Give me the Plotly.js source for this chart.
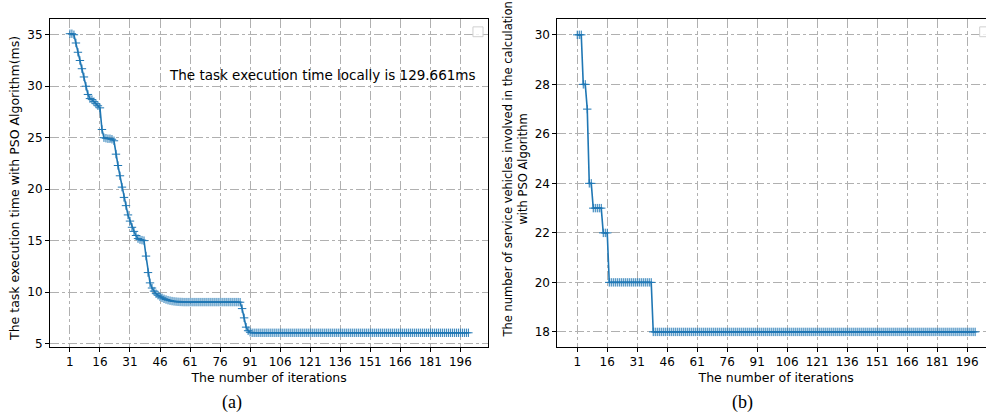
<!DOCTYPE html>
<html><head><meta charset="utf-8">
<script src="https://cdn.plot.ly/plotly-3.0.1.min.js"></script>
<style>html,body{margin:0;padding:0;overflow:hidden;background:#fff}#chart{width:1000px;height:414px}</style>
</head><body><div id="chart"></div>
<script>
// Left panel (a): task execution time (ms) per iteration, iterations 1..200
const taskTime = [
  35.1, 35.1, 35.0, 34.2, 33.3, 32.5, 31.7, 30.9, 30.0, 29.2,
  28.8, 28.7, 28.5, 28.3, 28.1, 27.9, 25.8, 25.0, 24.95, 24.9,
  24.9, 24.85, 24.7, 23.4, 22.3, 21.3, 20.2, 19.2, 18.4, 17.5,
  16.9, 16.3, 15.9, 15.5, 15.2, 15.1, 15.05, 15.0, 13.5, 11.9,
  10.9, 10.4, 10.1, 9.85, 9.7, 9.55, 9.45, 9.35, 9.28, 9.22,
  9.17, 9.13, 9.1, 9.08, 9.06, 9.05, 9.04, 9.03, 9.03, 9.03,
  9.03, 9.03, 9.03, 9.03, 9.03, 9.03, 9.03, 9.03, 9.03, 9.03,
  9.03, 9.03, 9.03, 9.03, 9.03, 9.03, 9.03, 9.03, 9.03, 9.03,
  9.03, 9.03, 9.03, 9.03, 9.03, 9.02, 8.4, 7.5, 6.6, 6.25,
  6.1, 6.05, 6.05, 6.05, 6.05, 6.05, 6.05, 6.05, 6.05, 6.05,
  6.05, 6.05, 6.05, 6.05, 6.05, 6.05, 6.05, 6.05, 6.05, 6.05,
  6.05, 6.05, 6.05, 6.05, 6.05, 6.05, 6.05, 6.05, 6.05, 6.05,
  6.05, 6.05, 6.05, 6.05, 6.05, 6.05, 6.05, 6.05, 6.05, 6.05,
  6.05, 6.05, 6.05, 6.05, 6.05, 6.05, 6.05, 6.05, 6.05, 6.05,
  6.05, 6.05, 6.05, 6.05, 6.05, 6.05, 6.05, 6.05, 6.05, 6.05,
  6.05, 6.05, 6.05, 6.05, 6.05, 6.05, 6.05, 6.05, 6.05, 6.05,
  6.05, 6.05, 6.05, 6.05, 6.05, 6.05, 6.05, 6.05, 6.05, 6.05,
  6.05, 6.05, 6.05, 6.05, 6.05, 6.05, 6.05, 6.05, 6.05, 6.05,
  6.05, 6.05, 6.05, 6.05, 6.05, 6.05, 6.05, 6.05, 6.05, 6.05,
  6.05, 6.05, 6.05, 6.05, 6.05, 6.05, 6.05, 6.05, 6.05, 6.05
];
// Right panel (b): number of service vehicles per iteration
const vehicles = [
  30, 30, 30, 28, 28, 27, 24, 24, 23, 23,
  23, 23, 23, 22, 22, 22, 20, 20, 20, 20,
  20, 20, 20, 20, 20, 20, 20, 20, 20, 20,
  20, 20, 20, 20, 20, 20, 20, 20, 18, 18,
  18, 18, 18, 18, 18, 18, 18, 18, 18, 18,
  18, 18, 18, 18, 18, 18, 18, 18, 18, 18,
  18, 18, 18, 18, 18, 18, 18, 18, 18, 18,
  18, 18, 18, 18, 18, 18, 18, 18, 18, 18,
  18, 18, 18, 18, 18, 18, 18, 18, 18, 18,
  18, 18, 18, 18, 18, 18, 18, 18, 18, 18,
  18, 18, 18, 18, 18, 18, 18, 18, 18, 18,
  18, 18, 18, 18, 18, 18, 18, 18, 18, 18,
  18, 18, 18, 18, 18, 18, 18, 18, 18, 18,
  18, 18, 18, 18, 18, 18, 18, 18, 18, 18,
  18, 18, 18, 18, 18, 18, 18, 18, 18, 18,
  18, 18, 18, 18, 18, 18, 18, 18, 18, 18,
  18, 18, 18, 18, 18, 18, 18, 18, 18, 18,
  18, 18, 18, 18, 18, 18, 18, 18, 18, 18,
  18, 18, 18, 18, 18, 18, 18, 18, 18, 18,
  18, 18, 18, 18, 18, 18, 18, 18, 18, 18
];
const iterations = taskTime.map((_, i) => i + 1);
const xTickVals = [1, 16, 31, 46, 61, 76, 91, 106, 121, 136, 151, 166, 181, 196];
const leftYTicks = [5, 10, 15, 20, 25, 30, 35];
const rightYTicks = [18, 20, 22, 24, 26, 28, 30];
const xTitle = 'The number of iterations';
const leftYTitle = 'The task execution time with PSO Algorithm(ms)';
const rightYTitle = 'The number of service vehicles involved in the calculation<br>with PSO Algorithm';
const localNote = 'The task execution time locally is 129.661ms';

const BLUE = '#1f77b4';
const FONT = 'DejaVu Sans, sans-serif';

function trace(y, xa, ya) {
  return {
    x: iterations, y: y, xaxis: xa, yaxis: ya, type: 'scatter', mode: 'lines+markers',
    line: {color: BLUE, width: 1.6},
    marker: {symbol: 'cross-thin', size: 6, color: BLUE, line: {color: BLUE, width: 1}},
    showlegend: false, hoverinfo: 'skip'
  };
}
function xAxis(domain, anchor) {
  return {
    domain: domain, anchor: anchor, range: [-8.95, 209.95], tickmode: 'array', tickvals: xTickVals,
    ticktext: xTickVals.map(String), showline: true, mirror: true, linecolor: '#000', linewidth: 1,
    ticks: 'outside', ticklen: 4, tickcolor: '#000', zeroline: false,
    showgrid: true, gridcolor: '#b0b0b0', griddash: 'dashdot', gridwidth: 1,
    tickfont: {family: FONT, size: 12, color: '#000'},
    title: {text: xTitle, font: {family: FONT, size: 12.5, color: '#000'}, standoff: 4},
    automargin: false
  };
}
function yAxis(range, ticks, anchor) {
  return {
    domain: [0, 1], anchor: anchor, range: range, tickmode: 'array', tickvals: ticks,
    showline: true, mirror: true, linecolor: '#000', linewidth: 1,
    ticks: 'outside', ticklen: 4, tickcolor: '#000', zeroline: false,
    showgrid: true, gridcolor: '#b0b0b0', griddash: 'dashdot', gridwidth: 1,
    tickfont: {family: FONT, size: 12, color: '#000'}, automargin: false
  };
}
const legendBox = (xr, yr) => ({
  type: 'rect', xref: xr, yref: yr, x0: 0.965, x1: 0.988, y0: 0.946, y1: 0.976,
  line: {color: '#d0d0d0', width: 1}, fillcolor: 'rgba(255,255,255,0.8)', layer: 'above'
});

const layout = {
  width: 1000, height: 414,
  margin: {l: 50, r: 5, t: 19, b: 67},
  paper_bgcolor: '#fff', plot_bgcolor: '#fff',
  xaxis: xAxis([0, 0.4638], 'y'),
  yaxis: yAxis([4.67, 36.53], leftYTicks, 'x'),
  xaxis2: xAxis([0.5369, 1], 'y2'),
  yaxis2: yAxis([17.39, 30.64], rightYTicks, 'x2'),
  shapes: [legendBox('x domain', 'y domain'), legendBox('x2 domain', 'y2 domain')],
  annotations: [
    {xref: 'x', yref: 'y', x: 49.5, y: 31.1, xanchor: 'left', yanchor: 'middle', showarrow: false,
     text: localNote, font: {family: FONT, size: 13.5, color: '#000'}},
    {xref: 'paper', yref: 'paper', x: -0.037, y: 0.482, xanchor: 'center', yanchor: 'middle',
     showarrow: false, textangle: -90, text: leftYTitle, font: {family: FONT, size: 12.5, color: '#000'}},
    {xref: 'paper', yref: 'paper', x: 0.4926, y: 0.5396, xanchor: 'center', yanchor: 'middle',
     showarrow: false, textangle: -90, align: 'center', text: rightYTitle,
     font: {family: FONT, size: 11.5, color: '#000'}},
    {xref: 'paper', yref: 'paper', x: 0.1926, y: -0.1707, xanchor: 'center', yanchor: 'middle',
     showarrow: false, text: '(a)', font: {family: 'Liberation Serif, serif', size: 18, color: '#000'}},
    {xref: 'paper', yref: 'paper', x: 0.7323, y: -0.1707, xanchor: 'center', yanchor: 'middle',
     showarrow: false, text: '(b)', font: {family: 'Liberation Serif, serif', size: 18, color: '#000'}}
  ]
};
Plotly.newPlot('chart', [trace(taskTime, 'x', 'y'), trace(vehicles, 'x2', 'y2')], layout,
  {staticPlot: true, displayModeBar: false});
</script>
</body></html>
